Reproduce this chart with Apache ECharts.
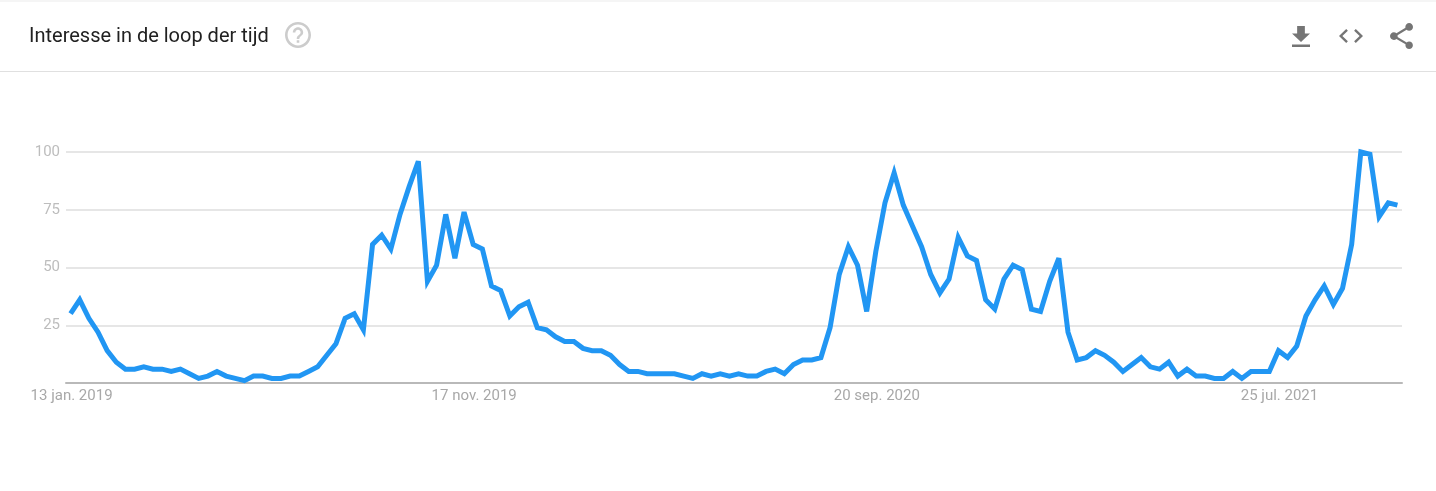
<!DOCTYPE html>
<html>
<head>
<meta charset="utf-8">
<title>Interesse in de loop der tijd</title>
<script src="https://cdn.jsdelivr.net/npm/echarts@6/dist/echarts.min.js"></script>
<style>
  html, body { margin: 0; padding: 0; background: #fff; }
  #chart { width: 1436px; height: 491px; }
</style>
</head>
<body>
<div id="chart"></div>
<script>
const chartTitle = 'Interesse in de loop der tijd';

// weekly interest, one value per week from 13 jan. 2019
const interest = [
  30, 36, 28, 22, 14, 9, 6, 6, 7, 6, 6, 5, 6, 4, 2, 3, 5, 3, 2, 1,
  3, 3, 2, 2, 3, 3, 5, 7, 12, 17, 28, 30, 23, 60, 64, 58, 73, 85, 96, 44,
  51, 73, 54, 74, 60, 58, 42, 40, 29, 33, 35, 24, 23, 20, 18, 18, 15, 14, 14, 12,
  8, 5, 5, 4, 4, 4, 4, 3, 2, 4, 3, 4, 3, 4, 3, 3, 5, 6, 4, 8,
  10, 10, 11, 24, 47, 59, 51, 31, 57, 78, 91, 77, 68, 59, 47, 39, 45, 63, 55, 53,
  36, 32, 45, 51, 49, 32, 31, 44, 54, 22, 10, 11, 14, 12, 9, 5, 8, 11, 7, 6,
  9, 3, 6, 3, 3, 2, 2, 5, 2, 5, 5, 5, 14, 11, 16, 29, 36, 42, 34, 41,
  60, 100, 99, 72, 78, 77
];

// only every 44th week gets a label
const tickLabels = ['13 jan. 2019', '17 nov. 2019', '20 sep. 2020', '25 jul. 2021'];
const labelStep = 44;
const categories = interest.map((v, i) => (i % labelStep === 0 ? tickLabels[i / labelStep] : String(i)));

// material icon outlines
const icons = {
  help: 'M11 18h2v-2h-2v2zm1-16C6.48 2 2 6.48 2 12s4.48 10 10 10 10-4.48 10-10S17.52 2 12 2zm0 18c-4.41 0-8-3.59-8-8s3.59-8 8-8 8 3.59 8 8-3.59 8-8 8zm0-14c-2.21 0-4 1.79-4 4h2c0-1.1.9-2 2-2s2 .9 2 2c0 2-3 1.75-3 5h2c0-2.25 3-2.5 3-5 0-2.21-1.79-4-4-4z',
  download: 'M19 9h-4V3H9v6H5l7 7 7-7zM5 18v2h14v-2H5z',
  code: 'M9.4 16.6L4.8 12l4.6-4.6L8 6l-6 6 6 6 1.4-1.4zm5.2 0l4.6-4.6-4.6-4.6L16 6l6 6-6 6-1.4-1.4z',
  share: 'M18 16.08c-.76 0-1.44.3-1.96.77L8.91 12.7c.05-.23.09-.46.09-.7s-.04-.47-.09-.7l7.05-4.11c.54.5 1.25.81 2.04.81 1.66 0 3-1.34 3-3s-1.34-3-3-3-3 1.34-3 3c0 .24.04.47.09.7L8.04 9.81C7.5 9.31 6.79 9 6 9c-1.66 0-3 1.34-3 3s1.34 3 3 3c.79 0 1.5-.31 2.04-.81l7.12 4.16c-.05.21-.08.43-.08.65 0 1.61 1.31 2.92 2.92 2.92 1.61 0 2.92-1.31 2.92-2.92s-1.31-2.92-2.92-2.92z'
};

// the graphic component has no 'path' type, custom series does
const iconPath = (pathData, x, y, width, height, fill) => ({
  type: 'path',
  shape: { pathData, layout: 'cover', x, y, width, height },
  style: { fill }
});

const chart = echarts.init(document.getElementById('chart'), null, { renderer: 'canvas' });

chart.setOption({
  animation: false,
  backgroundColor: '#fff',
  title: {
    text: chartTitle,
    left: 29,
    top: 25,
    padding: 0,
    textStyle: { color: '#212121', fontFamily: 'Roboto', fontSize: 20, fontWeight: 'normal', lineHeight: 24 }
  },
  grid: { left: 66, right: 34, top: 152, bottom: 108 },
  xAxis: {
    type: 'category',
    data: categories,
    boundaryGap: true,
    axisLine: { lineStyle: { color: '#b9b9b9', width: 2 } },
    axisTick: { show: false },
    axisLabel: {
      interval: labelStep - 1,
      color: '#a8a8a8',
      fontFamily: 'Roboto',
      fontSize: 15,
      margin: 6,
      padding: [0, 0, 0, 2],
      hideOverlap: false
    }
  },
  yAxis: {
    type: 'value',
    min: 0,
    max: 100,
    interval: 25,
    axisLine: { show: false },
    axisTick: { show: false },
    axisLabel: {
      color: '#bdbdbd',
      fontFamily: 'Roboto',
      fontSize: 15,
      margin: 6,
      padding: [2, 0, 0, 0],
      formatter: v => (v === 0 ? '' : String(v))
    },
    splitLine: { lineStyle: { color: '#e6e6e6', width: 2 } }
  },
  series: [
    {
      type: 'line',
      data: interest,
      showSymbol: false,
      smooth: false,
      clip: false,
      // miter limit 4 blunts the sharpest peak, as in the reference
      lineStyle: { color: '#2196f3', width: 5, join: 'miter', miterLimit: 4, cap: 'butt' }
    },
    {
      // header icons
      type: 'custom',
      coordinateSystem: 'none',
      silent: true,
      data: [0],
      renderItem: () => ({
        type: 'group',
        children: [
          iconPath(icons.help, 285, 22, 26, 26, '#cccccc'),
          iconPath(icons.download, 1292, 26, 18, 21, '#757575'),
          iconPath(icons.code, 1339, 29, 24, 14, '#757575'),
          iconPath(icons.share, 1390, 23, 23, 26, '#757575')
        ]
      })
    }
  ],
  graphic: [
    { type: 'rect', silent: true, shape: { x: 0, y: 0, width: 1436, height: 2 }, style: { fill: '#f5f5f5' } },
    { type: 'rect', silent: true, shape: { x: 0, y: 71, width: 1436, height: 1 }, style: { fill: '#e0e0e0' } }
  ]
});
</script>
</body>
</html>
